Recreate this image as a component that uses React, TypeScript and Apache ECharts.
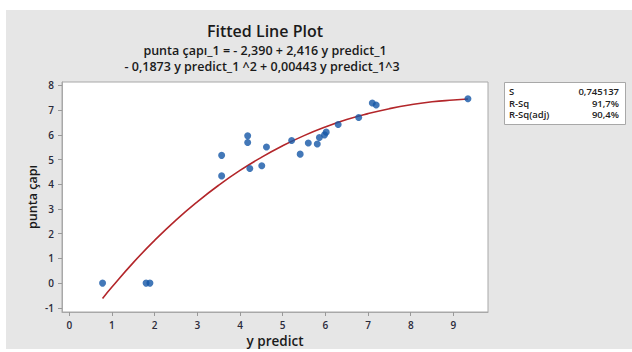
import React, { useEffect, useRef } from "react";
import * as echarts from "echarts";

const xTicks = [0, 1, 2, 3, 4, 5, 6, 7, 8, 9];
const yTicks = [-1, 0, 1, 2, 3, 4, 5, 6, 7, 8];

const predictX = [0.78, 1.8, 1.89, 3.57, 3.57, 4.18, 4.18, 4.23, 4.51, 4.62, 5.21, 5.41, 5.6, 5.81, 5.86, 5.98, 6.02, 6.3, 6.78, 7.1, 7.19, 9.34];
const puntaY = [0.0, 0.0, 0.0, 5.17, 4.34, 5.96, 5.69, 4.64, 4.75, 5.51, 5.77, 5.22, 5.67, 5.63, 5.89, 6.0, 6.11, 6.42, 6.7, 7.29, 7.21, 7.46];

const fitX = [0.78, 1, 1.5, 2, 2.5, 3, 3.5, 4, 4.5, 5, 5.5, 6, 6.5, 7, 7.5, 8, 8.5, 9, 9.34];
const fitY = [-0.62, -0.16, 0.83, 1.73, 2.55, 3.29, 3.96, 4.56, 5.09, 5.56, 5.97, 6.32, 6.62, 6.86, 7.06, 7.22, 7.34, 7.41, 7.45];

const statNames = ["S", "R-Sq", "R-Sq(adj)"];
const statValues = ["0,745137", "91,7%", "90,4%"];

const titleText = "Fitted Line Plot";
const eqLine1 = "punta çapı_1 = - 2,390 + 2,416 y predict_1";
const eqLine2 = "- 0,1873 y predict_1 ^2 + 0,00443 y predict_1^3";

const FONT = "'Open Sans', 'Noto Sans', sans-serif";

export default function App() {
  const ref = useRef<HTMLDivElement>(null);
  useEffect(() => {
    if (!ref.current) return;
    const chart = echarts.init(ref.current, null, { renderer: "svg" });
    const statGraphics: any[] = [];
    statNames.forEach((n, i) => {
      const y = 91.5 + i * 11.6;
      statGraphics.push({
        type: "text",
        x: 509,
        y,
        style: { text: n, font: `600 9.5px ${FONT}`, fill: "#222", textVerticalAlign: "middle", lineHeight: 10 },
        z: 10,
      });
      statGraphics.push({
        type: "text",
        x: 619,
        y,
        style: { text: statValues[i], font: `600 9.5px ${FONT}`, fill: "#222", textAlign: "right", textVerticalAlign: "middle", lineHeight: 10 },
        z: 10,
      });
    });
    chart.setOption({
      animation: false,
      backgroundColor: "#ffffff",
      textStyle: { fontFamily: FONT },
      grid: {
        left: 62,
        top: 82,
        right: 632 - 488,
        bottom: 352 - 312,
        show: true,
        backgroundColor: "#ffffff",
        borderColor: "#a8a8a8",
        borderWidth: 1,
        containLabel: false,
      },
      xAxis: {
        type: "value",
        min: -0.17,
        max: 9.81,
        axisLine: { show: true, onZero: false, lineStyle: { color: "#a8a8a8" } },
        axisTick: { show: true, length: 4, customValues: xTicks, lineStyle: { color: "#999" } },
        axisLabel: { customValues: xTicks, color: "#2a2a3a", fontSize: 10, fontWeight: 600, margin: 8, fontFamily: FONT },
        splitLine: { show: false },
      },
      yAxis: {
        type: "value",
        min: -1.17,
        max: 8.14,
        axisLine: { show: true, onZero: false, lineStyle: { color: "#a8a8a8" } },
        axisTick: { show: true, length: 4, customValues: yTicks, lineStyle: { color: "#999" } },
        axisLabel: { customValues: yTicks, color: "#2a2a3a", fontSize: 10, fontWeight: 600, margin: 8, fontFamily: FONT },
        splitLine: { show: false },
      },
      series: [
        {
          type: "line",
          data: fitX.map((x, i) => [x, fitY[i]]),
          smooth: true,
          showSymbol: false,
          lineStyle: { color: "#b3262a", width: 1.6 },
          z: 2,
        },
        {
          type: "scatter",
          data: predictX.map((x, i) => [x, puntaY[i]]),
          symbol: "circle",
          symbolSize: 7,
          itemStyle: { color: "#1456a6" },
          z: 3,
        },
      ],
      graphic: [
        {
          type: "rect",
          left: 6,
          top: 10,
          shape: { width: 626, height: 339 },
          style: { fill: "#e6e6e6" },
          z: -10,
          silent: true,
        },
        {
          type: "text",
          x: 265,
          y: 31,
          style: { text: titleText, font: `600 16px ${FONT}`, fill: "#1a1a1a", textAlign: "center", textVerticalAlign: "middle" },
        },
        {
          type: "text",
          x: 265,
          y: 50,
          style: { text: eqLine1, font: `600 12.5px ${FONT}`, fill: "#1a1a1a", textAlign: "center", textVerticalAlign: "middle" },
        },
        {
          type: "text",
          x: 262,
          y: 66,
          style: { text: eqLine2, font: `600 12.5px ${FONT}`, fill: "#1a1a1a", textAlign: "center", textVerticalAlign: "middle" },
        },
        {
          type: "text",
          x: 275,
          y: 341,
          style: { text: "y predict", font: `600 13.5px ${FONT}`, fill: "#1a1a1a", textAlign: "center", textVerticalAlign: "middle", lineHeight: 14 },
        },
        {
          type: "text",
          x: 32,
          y: 197,
          rotation: Math.PI / 2,
          style: { text: "punta çapı", font: `600 12.5px ${FONT}`, fill: "#1a1a1a", textAlign: "center", textVerticalAlign: "middle" },
        },
        {
          type: "rect",
          left: 504,
          top: 82,
          shape: { width: 121, height: 42 },
          style: { fill: "#ffffff", stroke: "#a8a8a8", lineWidth: 1 },
          z: 5,
        },
        ...statGraphics,
      ],
    });
    return () => chart.dispose();
  }, []);
  return (
    <div
      ref={ref}
      style={{ position: "fixed", left: 0, top: 0, width: 632, height: 352 }}
    />
  );
}
